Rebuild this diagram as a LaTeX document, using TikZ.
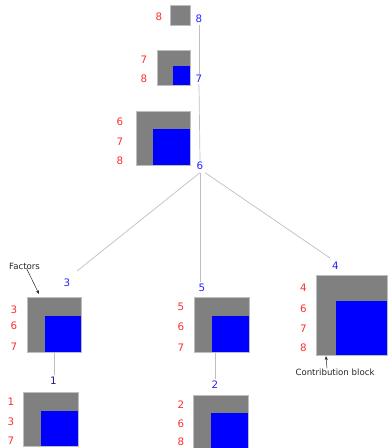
\documentclass[tikz,border=0pt]{standalone}
\usepackage{fontspec}
\setmainfont{DejaVu Sans}
\usetikzlibrary{arrows.meta}
\definecolor{lblred}{RGB}{255,45,45}
\definecolor{lblblue}{RGB}{35,35,255}
\definecolor{lblnavy}{RGB}{25,25,120}
\definecolor{boxgray}{RGB}{128,128,128}
\definecolor{boxedge}{RGB}{190,190,190}
\definecolor{connc}{RGB}{190,190,190}
\tikzset{
  redlbl/.style={text=lblred, font=\fontsize{10.3}{11}\selectfont, inner sep=1pt},
  bluelbl/.style={text=lblblue, font=\fontsize{10.3}{11}\selectfont, inner sep=1.5pt},
  graybox/.style={fill=boxgray, draw=boxedge, line width=0.5pt, anchor=north west, inner sep=0pt},
  bluebox/.style={fill=blue, draw=none, anchor=south east, inner sep=0pt},
  conn/.style={draw=connc, line width=0.7pt},
  note/.style={font=\fontsize{8.6}{9}\selectfont, text=black!85, inner sep=0pt},
  notearrow/.style={draw=black!85, line width=0.5pt, -{Stealth[length=4pt,width=3pt]}}
}
\begin{document}
\begin{tikzpicture}[x=1pt,y=-1pt]
\useasboundingbox (0,0) rectangle (388,448);
% ---- node 8
\node[graybox, minimum width=20pt, minimum height=20pt] (b8) at (170,5) {};
\node[redlbl] (r8a) at (159,17) {8};
\node[bluelbl] (l8) at (199,19) {8};
% ---- node 7
\node[graybox, minimum width=33pt, minimum height=35pt] (b7) at (157,50) {};
\node[bluebox, minimum width=17pt, minimum height=19pt] (c7) at (b7.south east) {};
\node[redlbl] (r7a) at (144,60) {7};
\node[redlbl] (r7b) at (144,79) {8};
\node[bluelbl] (l7) at (199,79) {7};
% ---- node 6
\node[graybox, minimum width=54pt, minimum height=54pt] (b6) at (136,111) {};
\node[bluebox, minimum width=37pt, minimum height=36pt] (c6) at (b6.south east) {};
\node[redlbl] (r6a) at (120,122) {6};
\node[redlbl] (r6b) at (120,142) {7};
\node[redlbl] (r6c) at (120,161) {8};
\node[bluelbl] (l6) at (200,166) {6};
% ---- node 3
\node[graybox, minimum width=54pt, minimum height=55pt] (b3) at (27,297) {};
\node[bluebox, minimum width=36pt, minimum height=36pt] (c3) at (b3.south east) {};
\node[redlbl] (r3a) at (14,309.5) {3};
\node[redlbl] (r3b) at (14,326) {6};
\node[redlbl] (r3c) at (14,347) {7};
\node[bluelbl] (l3) at (67,283) {3};
% ---- node 5
\node[graybox, minimum width=55pt, minimum height=55pt] (b5) at (194,297) {};
\node[bluebox, minimum width=37pt, minimum height=36pt] (c5) at (b5.south east) {};
\node[redlbl] (r5a) at (181,307) {5};
\node[redlbl] (r5b) at (181,327) {6};
\node[redlbl] (r5c) at (181,347.5) {7};
\node[bluelbl] (l5) at (202,287.5) {5};
% ---- node 4
\node[graybox, minimum width=71pt, minimum height=80pt] (b4) at (316,275) {};
\node[bluebox, minimum width=51pt, minimum height=54pt] (c4) at (b4.south east) {};
\node[redlbl] (r4a) at (303.5,288) {4};
\node[redlbl] (r4b) at (303.5,308.5) {6};
\node[redlbl] (r4c) at (303.5,329) {7};
\node[redlbl] (r4d) at (303.5,348) {8};
\node[bluelbl] (l4) at (335.5,266) {4};
% ---- node 1
\node[graybox, minimum width=55pt, minimum height=54pt] (b1) at (23,392) {};
\node[bluebox, minimum width=37pt, minimum height=35pt] (c1) at (b1.south east) {};
\node[redlbl] (r1a) at (11,402) {1};
\node[redlbl] (r1b) at (11,421.5) {3};
\node[redlbl] (r1c) at (11,441) {7};
\node[bluelbl, text=lblnavy] (l1) at (53.5,380.5) {1};
% ---- node 2
\node[graybox, minimum width=55pt, minimum height=54pt] (b2) at (193,395) {};
\node[bluebox, minimum width=37pt, minimum height=36pt] (c2) at (b2.south east) {};
\node[redlbl] (r2a) at (181,405) {2};
\node[redlbl] (r2b) at (181,423.5) {6};
\node[redlbl] (r2c) at (181,442) {8};
\node[bluelbl] (l2) at (215,385) {2};
% ---- connectors
\draw[conn] (l8.south) -- (l7.north);
\draw[conn] (l7.south) -- (l6.north);
\draw[conn] ([yshift=-1pt]l6.south) -- ([xshift=10pt,yshift=12pt]l3.center);
\draw[conn] ([yshift=-1pt]l6.south) -- (l6.south |- l5.north);
\draw[conn] ([xshift=5pt,yshift=-1pt]l6.south) -- ([xshift=-5.5pt,yshift=8pt]l4.center);
\draw[conn] (b3.south) -- (b3.south |- l1.north);
\draw[conn] (l2.north) -- (l2.north |- b5.south);
% ---- annotations
\node[note] (fac) at (24.5,266) {Factors};
\coordinate (facend) at (39,294);
\draw[notearrow] ([xshift=2pt,yshift=1pt]fac.south) -- (facend);
\node[note] (cb) at (335,372) {Contribution block};
\coordinate (cbend) at (326,356);
\draw[notearrow] (cb.north -| 327,0) -- (cbend);
\end{tikzpicture}
\end{document}
